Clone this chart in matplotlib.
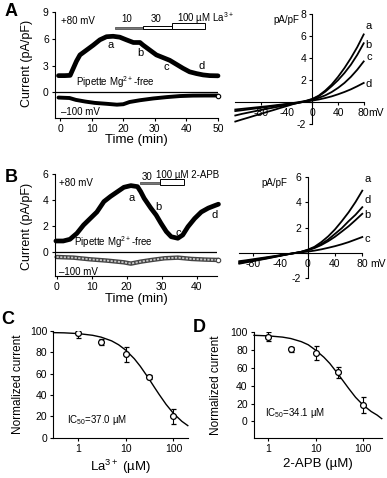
import numpy as np
import matplotlib
matplotlib.use('Agg')
import matplotlib.pyplot as plt
from matplotlib.patches import Rectangle

plt.rcParams['font.family'] = ['Liberation Sans', 'DejaVu Sans']
plt.rcParams['mathtext.fontset'] = 'custom'
plt.rcParams['mathtext.rm'] = 'Liberation Sans'
plt.rcParams['mathtext.it'] = 'Liberation Sans:italic'
plt.rcParams['axes.unicode_minus'] = False
plt.rcParams['font.size'] = 7.5
plt.rcParams['axes.linewidth'] = 0.8
plt.rcParams['xtick.major.width'] = 0.8
plt.rcParams['ytick.major.width'] = 0.8
plt.rcParams['xtick.major.size'] = 2.5
plt.rcParams['ytick.major.size'] = 2.5
plt.rcParams['xtick.major.pad'] = 2
plt.rcParams['ytick.major.pad'] = 2

# ---------------- data ----------------
# Panel A, time course (La3+)
tA_pos = [-0.5, 1.5, 3.2, 4.2, 5.2, 6.3, 8.4, 10.5, 12.6, 14.7, 16.8, 18.9, 21.0, 23.2,
          25.3, 26.3, 28.4, 30.5, 32.6, 34.7, 36.8, 38.9, 41.0, 43.2, 45.3, 47.4, 50.0]
iA_pos = [1.87, 1.87, 1.9, 2.7, 3.5, 4.2, 4.75, 5.3, 5.9, 6.25, 6.3, 6.2, 5.9, 5.6,
          5.6, 5.3, 4.75, 4.2, 3.9, 3.6, 3.15, 2.7, 2.3, 2.1, 1.95, 1.87, 1.85]
tA_neg = [-0.5, 3, 5, 8, 11, 14.7, 18, 20, 22, 25.3, 29.5, 33.7, 37.9, 42, 46, 50]
iA_neg = [-0.6, -0.65, -0.86, -1.05, -1.2, -1.3, -1.4, -1.35, -1.1, -0.9, -0.7, -0.55,
          -0.43, -0.38, -0.37, -0.37]
A_bars = [(17.4, 26.3), (26.3, 35.3), (35.3, 45.8)]   # La3+ 10, 30, 100 uM
A_marks = {'a': (16.0, 5.3), 'b': (25.3, 4.4), 'c': (33.5, 2.8), 'd': (44.7, 2.9)}

# Panel B, time course (2-APB)
tB_pos = [-0.2, 1.9, 3.8, 5.8, 7.7, 9.6, 11.5, 13.5, 15.4, 17.3, 19.2, 21.2, 23.1, 24.0,
          25.0, 26.9, 28.4, 29.8, 31.3, 32.7, 34.6, 36.0, 37.5, 39.4, 41.3, 43.3, 45.2, 46.2]
iB_pos = [0.87, 0.87, 1.0, 1.46, 2.1, 2.6, 3.1, 3.9, 4.3, 4.65, 5.0, 5.13, 5.05, 4.67,
          4.15, 3.4, 2.87, 2.23, 1.6, 1.2, 1.08, 1.33, 1.97, 2.6, 3.1, 3.4, 3.6, 3.7]
tB_neg = [0, 4.8, 9.6, 14.4, 19.2, 21.2, 24.0, 26.9, 30.8, 34.6, 38.5, 42.3, 46.2]
iB_neg = [-0.36, -0.41, -0.54, -0.64, -0.77, -0.87, -0.72, -0.6, -0.46, -0.41, -0.51,
          -0.56, -0.59]
B_bars = [(23.8, 29.6), (29.6, 36.3)]   # 2-APB 30, 100 uM
B_marks = {'a': (21.3, 4.15), 'b': (29.0, 3.5), 'c': (34.6, 1.5), 'd': (45.2, 2.9)}

# IV curves, panel A (-120..80 mV)
vA = [-120, -110, -100, -90, -80, -70, -60, -50, -40, -30, -20, -10, 0, 10, 20, 30, 40, 50, 60, 70, 80]
ivA = {
    'a': [-0.66, -0.6, -0.54, -0.48, -0.42, -0.36, -0.29, -0.22, -0.15, -0.07, 0.02, 0.13,
          0.3, 0.6, 1.05, 1.6, 2.3, 3.1, 4.0, 5.0, 6.15],
    'b': [-0.8, -0.73, -0.65, -0.58, -0.5, -0.43, -0.35, -0.27, -0.18, -0.1, -0.02, 0.1,
          0.28, 0.55, 0.95, 1.45, 2.0, 2.65, 3.4, 4.3, 5.35],
    'c': [-1.2, -1.06, -0.94, -0.82, -0.7, -0.59, -0.48, -0.37, -0.26, -0.15, -0.04, 0.08,
          0.22, 0.4, 0.62, 0.92, 1.3, 1.75, 2.3, 2.95, 3.7],
    'd': [-1.75, -1.57, -1.4, -1.22, -1.05, -0.87, -0.7, -0.52, -0.35, -0.17, -0.02, 0.06,
          0.15, 0.25, 0.38, 0.53, 0.72, 0.93, 1.17, 1.45, 1.75],
}
ivA_lab = {'a': 6.9, 'b': 5.17, 'c': 4.08, 'd': 1.62}

# IV curves, panel B (-100..80 mV)
vB = [-100, -90, -80, -70, -60, -50, -40, -30, -20, -10, 0, 10, 20, 30, 40, 50, 60, 70, 80]
ivB = {
    'a': [-0.65, -0.58, -0.5, -0.42, -0.34, -0.26, -0.18, -0.1, -0.02, 0.08, 0.25, 0.48,
          0.85, 1.3, 1.85, 2.5, 3.2, 4.0, 4.9],
    'd': [-0.85, -0.75, -0.65, -0.55, -0.45, -0.34, -0.23, -0.12, -0.02, 0.08, 0.22, 0.42,
          0.7, 1.05, 1.5, 1.95, 2.5, 3.0, 3.6],
    'b': [-0.72, -0.64, -0.55, -0.47, -0.38, -0.29, -0.2, -0.11, -0.02, 0.07, 0.2, 0.38,
          0.62, 0.92, 1.27, 1.68, 2.1, 2.58, 3.08],
    'c': [-0.8, -0.7, -0.61, -0.52, -0.42, -0.32, -0.22, -0.12, -0.03, 0.04, 0.1, 0.18,
          0.28, 0.4, 0.53, 0.68, 0.85, 1.05, 1.25],
}
ivB_lab = {'a': 5.8, 'd': 4.15, 'b': 2.97, 'c': 1.13}

# Dose response C (La3+) and D (2-APB)
conc = [1, 3, 10, 30, 100]
C_mean = [97.5, 89.4, 78.0, 56.7, 20.2]
C_err = [4, 3, 7, 2, 7]
C_fit_x = [0.3, 0.5, 1, 2, 3, 5, 7, 10, 15, 20, 30, 40, 50, 70, 100, 150, 200]
C_fit_y = [98.2, 98.0, 97.3, 95.7, 94.0, 90.5, 86.9, 81.7, 73.8, 66.8, 55.5, 46.9, 40.4,
           31.1, 22.7, 15.3, 11.3]
D_mean = [95.1, 80.9, 76.4, 55.0, 18.0]
D_err = [5, 3, 8, 6.5, 9]
D_fit_x = [0.5, 1, 2, 3, 5, 7, 10, 15, 20, 30, 40, 50, 70, 100, 150, 200, 250]
D_fit_y = [96.6, 96.0, 94.6, 93.0, 89.5, 86.0, 80.0, 72.0, 65.0, 53.0, 44.0, 37.0, 27.0,
           18.5, 11.0, 7.0, 3.0]

W, H = 387, 478
fig = plt.figure(figsize=(W / 100, H / 100), dpi=100)


def box(left, top, right, bottom):
    """pixel box -> figure axes rect"""
    return [left / W, 1 - bottom / H, (right - left) / W, (bottom - top) / H]


def ftext(x, y, s, **kw):
    fig.text(x / W, 1 - y / H, s, **kw)


# ---------- time course panels ----------
def time_panel(rect, xlim, ylim, yticks, xticks, t_pos, i_pos, t_neg, i_neg, marks, neg_style):
    ax = fig.add_axes(rect)
    ax.set_xlim(xlim)
    ax.set_ylim(ylim)
    ax.spines['top'].set_visible(False)
    ax.spines['right'].set_visible(False)
    ax.set_yticks(yticks)
    ax.set_xticks(xticks)
    ax.axhline(0, color='black', lw=0.9, xmax=1.0)
    ax.plot(t_pos, i_pos, color='black', lw=3.4, solid_capstyle='round',
            solid_joinstyle='round', clip_on=False)
    if neg_style == 'black':
        ax.plot(t_neg, i_neg, color='black', lw=2.8, solid_capstyle='round', clip_on=False)
        ax.plot(t_neg[-1], i_neg[-1], 'o', ms=3.2, mfc='white', mec='black', mew=0.8,
                clip_on=False)
    else:
        ax.plot(t_neg, i_neg, color='#444444', lw=3.2, solid_capstyle='round', clip_on=False)
        ax.plot(t_neg, i_neg, color='#c8c8c8', lw=1.3, ls=(0, (1.2, 0.8)), clip_on=False)
        ax.plot(t_neg[-1], i_neg[-1], 'o', ms=3.2, mfc='white', mec='#444444', mew=0.8,
                clip_on=False)
    for k, (x, y) in marks.items():
        ax.text(x, y, k, fontsize=8, ha='center', va='center')
    return ax


axA = time_panel(box(55, 12.3, 218, 118), (-1.6, 50), (-2.9, 9), [0, 3, 6, 9],
                 [0, 10, 20, 30, 40, 50], tA_pos, iA_pos, tA_neg, iA_neg, A_marks, 'black')
axA.add_patch(Rectangle((A_bars[0][0], 7.12), A_bars[0][1] - A_bars[0][0], 0.2,
                        facecolor='#777777', edgecolor='#555555', lw=0.6, clip_on=False))
axA.add_patch(Rectangle((A_bars[1][0], 7.07), A_bars[1][1] - A_bars[1][0], 0.38,
                        facecolor='white', edgecolor='black', lw=0.7, clip_on=False))
axA.add_patch(Rectangle((A_bars[2][0], 7.07), A_bars[2][1] - A_bars[2][0], 0.68,
                        facecolor='white', edgecolor='black', lw=0.7, clip_on=False))
axA.text(21.0, 8.3, '10', ha='center', va='center', fontsize=7)
axA.text(30.5, 8.3, '30', ha='center', va='center', fontsize=7)
axA.text(37.0, 8.3, r'100 µM La$^{3+}$', ha='left', va='center', fontsize=7)
axA.text(0.3, 8.0, '+80 mV', ha='left', va='center', fontsize=7)
axA.text(17.5, 0.2, r'Pipette Mg$^{2+}$-free', ha='center', va='bottom', fontsize=7)
axA.text(0.3, -2.2, '\u2013100 mV', ha='left', va='center', fontsize=7)

axB = time_panel(box(54.5, 174.3, 216.7, 275.7), (-0.6, 45.7), (-1.8, 6), [0, 2, 4, 6],
                 [0, 10, 20, 30, 40], tB_pos, iB_pos, tB_neg, iB_neg, B_marks, 'gray')
axB.add_patch(Rectangle((B_bars[0][0], 5.26), B_bars[0][1] - B_bars[0][0], 0.18,
                        facecolor='#777777', edgecolor='#555555', lw=0.6, clip_on=False))
axB.add_patch(Rectangle((B_bars[1][0], 5.18), B_bars[1][1] - B_bars[1][0], 0.46,
                        facecolor='white', edgecolor='black', lw=0.7, clip_on=False))
axB.text(25.7, 5.8, '30', ha='center', va='center', fontsize=7)
axB.text(37.3, 5.95, '100 µM 2-APB', ha='center', va='center', fontsize=7)
axB.text(0.6, 5.3, '+80 mV', ha='left', va='center', fontsize=7)
axB.text(16.3, 0.2, r'Pipette Mg$^{2+}$-free', ha='center', va='bottom', fontsize=7)
axB.text(0.6, -1.5, '\u2013100 mV', ha='left', va='center', fontsize=7)

for y in (63.5, 226):
    ftext(27, y, 'Current (pA/pF)', rotation=90, ha='center', va='center', fontsize=9)
ftext(136, 140, 'Time (min)', ha='center', va='center', fontsize=9.5)
ftext(136, 299, 'Time (min)', ha='center', va='center', fontsize=9.5)


# ---------- IV panels ----------
def iv_panel(rect, xlim, ylim, yticks, v, curves, labpos, mv_x, pa_pos):
    ax = fig.add_axes(rect)
    ax.set_xlim(xlim)
    ax.set_ylim(ylim)
    for s in ('top', 'right'):
        ax.spines[s].set_visible(False)
    ax.spines['left'].set_position(('data', 0))
    ax.spines['bottom'].set_position(('data', 0))
    ax.set_yticks(yticks)
    ax.set_yticklabels(['' if t == 0 else str(t) for t in yticks])
    ax.set_xticks([-80, -40, 0, 40, 80])
    for k, vals in curves.items():
        ax.plot(v, vals, color='black', lw=1.3, clip_on=False)
        ax.text(88, labpos[k], k, fontsize=8, ha='center', va='center')
    ax.text(mv_x, 0, 'mV', ha='left', va='top', fontsize=7.5,
            transform=ax.transData + matplotlib.transforms.ScaledTranslation(
                0, -4.5 / 72, fig.dpi_scale_trans))
    ax.text(pa_pos[0], pa_pos[1], 'pA/pF', ha='center', va='center', fontsize=7)
    return ax


iv_panel(box(235.3, 14, 363.7, 124.3), (-120, 80), (-2, 8), [-2, 0, 2, 4, 6, 8],
         vA, ivA, ivA_lab, 87, (-41, 7.5))
iv_panel(box(239.3, 176.7, 362.3, 278.3), (-100, 80), (-2, 6), [-2, 0, 2, 4, 6],
         vB, ivB, ivB_lab, 91, (-48, 5.5))


# ---------- dose response panels ----------
def dose_panel(rect, xlim, ylim, mean, err, fx, fy, ic_text, ic_pos, xlabel, ylabel_x):
    ax = fig.add_axes(rect)
    ax.set_xscale('log')
    ax.set_xlim(xlim)
    ax.set_ylim(ylim)
    for s in ('top', 'right'):
        ax.spines[s].set_visible(False)
    ax.set_xticks([1, 10, 100])
    ax.set_xticklabels(['1', '10', '100'])
    ax.xaxis.set_minor_locator(matplotlib.ticker.NullLocator())
    ax.set_yticks([0, 20, 40, 60, 80, 100])
    ax.plot(fx, fy, color='black', lw=1.0, clip_on=False)
    ax.errorbar(conc, mean, yerr=err, fmt='o', ms=4.2, mfc='white', mec='black', mew=0.9,
                ecolor='black', elinewidth=0.8, capsize=1.8, capthick=0.8, zorder=3)
    ax.text(ic_pos[0], ic_pos[1], ic_text, ha='left', va='center', fontsize=7)
    ax.set_xlabel(xlabel, fontsize=9.5, labelpad=3)
    ax.yaxis.set_label_coords(ylabel_x, 0.5)
    ax.set_ylabel('Normalized current', fontsize=8.5)
    return ax


dose_panel(box(53.5, 330.7, 187.8, 437.7), (0.3, 200), (0, 100), C_mean, C_err,
           C_fit_x, C_fit_y, r'IC$_{50}$=37.0 µM', (0.58, 16.5), r'La$^{3+}$ (µM)', -0.22)
dose_panel(box(254, 332.3, 381.7, 437.7), (0.5, 250), (-18.4, 100), D_mean, D_err,
           D_fit_x, D_fit_y, r'IC$_{50}$=34.1 µM', (0.85, 9.3), '2-APB (µM)', -0.25)

# panel letters
for letter, x, y in [('A', 11, 12), ('B', 11, 177), ('C', 8, 320), ('D', 199, 327)]:
    ftext(x, y, letter, fontsize=13, fontweight='bold', ha='center', va='center')

fig.savefig('out.png', dpi=100)
